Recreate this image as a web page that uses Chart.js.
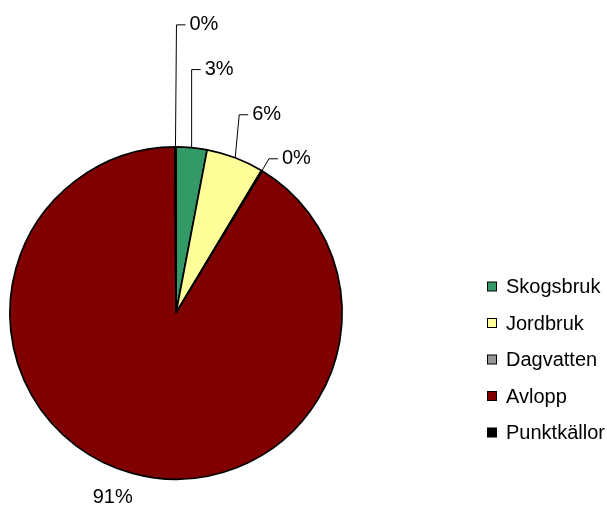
<!DOCTYPE html>
<html>
<head>
    <meta charset="utf-8">
    <title>Fördelning</title>
    <script src="https://cdn.jsdelivr.net/npm/chart.js@4.4.0/dist/chart.umd.min.js"></script>
    <style>
        html, body { margin: 0; padding: 0; background: #fff; }
        canvas { display: block; }
    </style>
</head>
<body>
    <canvas id="canvas" width="607" height="505"></canvas>
    <script>
        // data (percent)
        const kategorier = ['Skogsbruk', 'Jordbruk', 'Dagvatten', 'Avlopp', 'Punktkällor'];
        const andelar = [3.0, 5.6, 0.1, 91.2, 0.1];
        const farger = ['#339966', '#FFFF99', '#969696', '#800000', '#000000'];

        // where each label's leader line bends, relative to the slice edge
        const ledare = [[0, -78], [4, -43], [7, -12], null, [1, -122]];
        const FONT = '20px "Liberation Sans", Arial, sans-serif';

        // percent labels with leader lines
        const etiketter = {
            id: 'etiketter',
            afterDatasetsDraw(chart) {
                const ctx = chart.ctx;
                const meta = chart.getDatasetMeta(0);
                const total = andelar.reduce((a, b) => a + b, 0);
                ctx.save();
                ctx.font = FONT;
                ctx.fillStyle = '#000';
                ctx.strokeStyle = '#000';
                ctx.lineWidth = 1;
                ctx.textBaseline = 'middle';
                meta.data.forEach(function (arc, i) {
                    const mid = (arc.startAngle + arc.endAngle) / 2;
                    const ax = arc.x + arc.outerRadius * Math.cos(mid);
                    const ay = arc.y + arc.outerRadius * Math.sin(mid);
                    const txt = Math.round(andelar[i] / total * 100) + '%';
                    const l = ledare[i];
                    if (l) {
                        const ex = ax + l[0], ey = ay + l[1];
                        ctx.beginPath();
                        ctx.moveTo(ax, ay);
                        ctx.lineTo(ex, ey);
                        ctx.lineTo(ex + 9, ey);
                        ctx.stroke();
                        ctx.textAlign = 'left';
                        ctx.fillText(txt, ex + 13, ey);
                    } else {
                        ctx.textAlign = 'center';
                        ctx.fillText(txt, ax - 19, ay + 24);
                    }
                });
                ctx.restore();
            }
        };

        // legend to the right
        const legend = {
            id: 'legendHoger',
            afterDraw(chart) {
                const ctx = chart.ctx;
                ctx.save();
                ctx.font = FONT;
                ctx.textBaseline = 'middle';
                ctx.textAlign = 'left';
                chart.data.labels.forEach(function (lab, i) {
                    const y = 286.5 + i * 36.5;
                    ctx.fillStyle = farger[i];
                    ctx.fillRect(487, y - 4.5, 9, 9);
                    ctx.strokeStyle = '#000';
                    ctx.lineWidth = 1;
                    ctx.strokeRect(487.5, y - 4.5, 9, 9);
                    ctx.fillStyle = '#000';
                    ctx.fillText(lab, 506, y + 1);
                });
                ctx.restore();
            }
        };

        new Chart(document.getElementById('canvas'), {
            type: 'pie',
            data: {
                labels: kategorier,
                datasets: [{
                    data: andelar,
                    backgroundColor: farger,
                    borderColor: '#000',
                    borderWidth: 1.7
                }]
            },
            options: {
                responsive: false,
                animation: false,
                layout: { padding: { left: 9, top: 146, right: 264, bottom: 25 } },
                plugins: {
                    legend: { display: false },
                    tooltip: { enabled: false }
                }
            },
            plugins: [etiketter, legend]
        });
    </script>
</body>
</html>
